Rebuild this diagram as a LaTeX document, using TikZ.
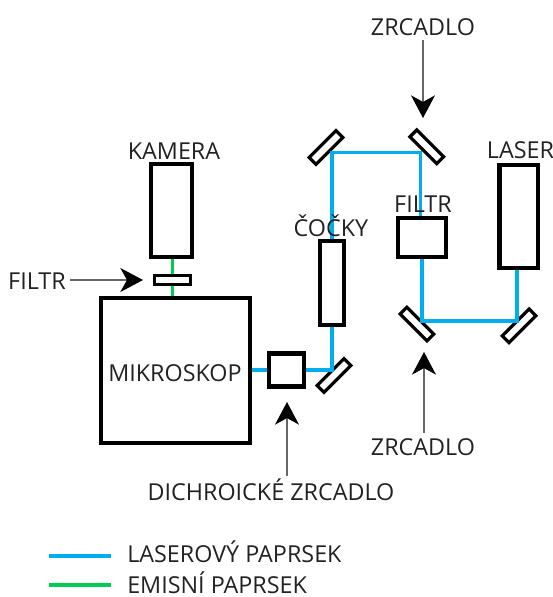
\documentclass[tikz,border=0pt]{standalone}
\usepackage{fontspec}
\setmainfont{Open Sans}
\usetikzlibrary{arrows.meta}
\definecolor{beamblue}{HTML}{00AEEF}
\definecolor{beamgreen}{HTML}{00CC55}
\definecolor{inkc}{HTML}{222222}
\tikzset{
  part/.style={draw=black,fill=white,line width=3.3pt,inner sep=0pt},
  mirror/.style={draw=black,fill=white,line width=2.4pt,inner sep=0pt,minimum width=28.5pt,minimum height=7.2pt},
  beam/.style={line width=2.4pt,beamblue,line join=miter},
  emis/.style={line width=2.4pt,beamgreen},
  lbl/.style={text=inkc,font=\fontsize{17.5}{20}\selectfont,inner sep=0pt,anchor=base},
  lblleft/.style={lbl,anchor=base west},
  pointer/.style={draw=black!60,line width=0.8pt,-{Stealth[length=17pt,width=18pt,inset=5pt,black]}}
}
\begin{document}
\begin{tikzpicture}[x=0.75pt,y=-0.75pt]
\useasboundingbox (0,0) rectangle (553,597);
% parts
\node[part,minimum width=30.75pt,minimum height=69.75pt] (kamera) at (171.5,210.5) {};
\node[part,line width=2.4pt,minimum width=27pt,minimum height=6.4pt] (sfiltr) at (172.5,280) {};
\node[part,minimum width=111.75pt,minimum height=108.75pt] (mikro) at (175.5,370.5) {};
\node[part,minimum width=26.25pt,minimum height=24.75pt] (dichro) at (286.5,370) {};
\node[part,minimum width=18pt,minimum height=63pt] (cocky) at (332,283) {};
\node[part,minimum width=36pt,minimum height=29.25pt] (filtr) at (422,237.5) {};
\node[part,minimum width=28.9pt,minimum height=77.25pt] (laser) at (518.75,216.5) {};
\node[mirror,rotate=45] (m1) at (326,147.5) {};
\node[mirror,rotate=-45] (m2) at (426.8,146.8) {};
\node[mirror,rotate=-45] (m3) at (416.9,324) {};
\node[mirror,rotate=45] (m4) at (519,325.8) {};
\node[mirror,rotate=45] (m5) at (334,375.5) {};
% beam corners
\coordinate (c1) at (332,152.5);
\coordinate (c2) at (420.5,152.5);
\coordinate (c3) at (422,321);
\coordinate (c4) at (517,321);
\coordinate (c5) at (332,370);
% beams
\draw[beam] (mikro.east |- dichro.west) -- (dichro.west);
\draw[beam] (dichro.east) -- (c5) -- (cocky.south);
\draw[beam] (cocky.north) -- (c1) -- (c2) -- (c2 |- filtr.north);
\draw[beam] (filtr.south) -- (c3) -- (c4) -- (c4 |- laser.south);
\draw[emis] (kamera.south -| sfiltr.north) -- (sfiltr.north);
\draw[emis] (sfiltr.south) -- (sfiltr.south |- mikro.north);
% labels
\node[lbl] (tz1) at (423,35) {ZRCADLO};
\node[lbl] (tkam) at (174,159) {KAMERA};
\node[lbl] (tlas) at (520.5,158) {LASER};
\node[lbl] (tfil) at (423,212) {FILTR};
\node[lbl] (tcoc) at (331,236) {ČOČKY};
\node[lbl] (tfl) at (37,289) {FILTR};
\node[lbl] (tmik) at (175,381) {MIKROSKOP};
\node[lbl] (tz2) at (423,455) {ZRCADLO};
\node[lbl] (tdi) at (271,500) {DICHROICKÉ ZRCADLO};
\node[lblleft] (tl1) at (127,562) {LASEROVÝ PAPRSEK};
\node[lblleft] (tl2) at (127,593) {EMISNÍ PAPRSEK};
% pointers
\coordinate (p1) at (423,118);
\coordinate (p2) at (424,352);
\coordinate (p3) at (287,402);
\coordinate (p4) at (143,280);
\draw[pointer] (p1 |- tz1.south) ++(0,5) -- (p1);
\draw[pointer] (p2 |- tz2.north) ++(0,-5) -- (p2);
\draw[pointer] (p3 |- tdi.north) ++(0,-2) -- (p3);
\draw[pointer] (tfl.east |- p4) ++(4,0) -- (p4);
% legend
\coordinate (k1) at (49,556);
\coordinate (k2) at (49,585);
\draw[beam] (k1) -- ++(62,0);
\draw[emis] (k2) -- ++(62,0);
\end{tikzpicture}
\end{document}
